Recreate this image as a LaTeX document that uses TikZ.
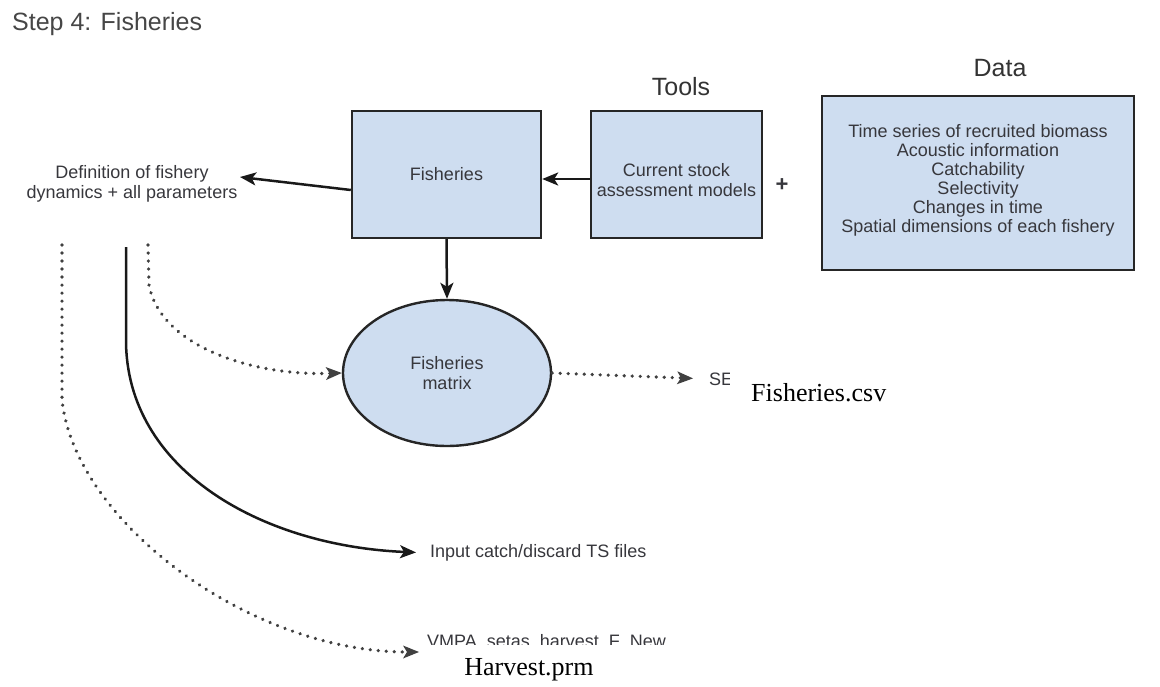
\documentclass[tikz,border=0pt]{standalone}
\usepackage{fontspec}
\setmainfont{Liberation Sans}
\newfontfamily\serifface{Liberation Serif}
\usetikzlibrary{arrows.meta,shapes.geometric}
\definecolor{boxfill}{RGB}{206,221,240}
\definecolor{boxtext}{RGB}{55,55,60}
\definecolor{titletext}{RGB}{70,70,70}
\tikzset{
  base/.style={font=\fontsize{18}{20}\selectfont, text=boxtext, align=center},
  bluebox/.style={base, draw=black!85, line width=2.4pt, fill=boxfill, inner sep=0pt},
  inside/.style={base, inner sep=0pt},
  heading/.style={font=\fontsize{25}{28}\selectfont, text=black!80},
  plain/.style={base, inner sep=0pt},
  filelabel/.style={font=\serifface\fontsize{26}{28}\selectfont, text=black, fill=white},
  tip/.style={-{Stealth[length=16pt,width=13pt,inset=4pt]}},
  flow/.style={tip, line width=2.5pt, draw=black!90},
  dotflow/.style={line width=3.6pt, draw=black!75, dash pattern=on 0.01pt off 8pt, line cap=round,
    -{Stealth[length=16pt,width=13pt,inset=4pt,line cap=butt,line width=0pt]}}
}
\begin{document}
\begin{tikzpicture}[x=1pt,y=-1pt]
\useasboundingbox (0,0) rectangle (1160,686);

% title
\node[anchor=west, font=\fontsize{25}{28}\selectfont, text=titletext, inner sep=0pt] (title) at (12,24) {Step 4: Fisheries};

% column headings
\node[heading] (toolshead) at (681,87) {Tools};
\node[heading] (datahead) at (1000,68) {Data};

% boxes
\node[bluebox, minimum width=189pt, minimum height=127pt] (fish) at (446.5,174.5) {Fisheries};
\node[bluebox, minimum width=171pt, minimum height=127pt,
  label={[inside, yshift=-5.5pt]center:Current stock\\assessment models}] (tools) at (676.5,174.5) {};
\node[plain, font=\fontsize{22}{24}\selectfont\bfseries] (plus) at (782,185) {+};
\node[bluebox, minimum width=312pt, minimum height=174pt,
  label={[inside, font=\fontsize{18}{19}\selectfont, yshift=2.5pt]center:Time series of recruited biomass\\Acoustic information\\Catchability\\Selectivity\\Changes in time\\Spatial dimensions of each fishery}] (data) at (978,183) {};

\node[bluebox, ellipse, minimum width=208pt, minimum height=146pt] (matrix) at (447,373) {Fisheries\\matrix};

% left-hand labels
\node[plain] (defn) at (132,184) {Definition of fishery\\dynamics + all parameters};
\node[plain, anchor=west, inner xsep=0pt] (catch) at (430,553) {Input catch/discard TS files};
\node[plain, anchor=west] (se) at (709,379) {SE};
\node[plain, anchor=west] (vmpa) at (427,641) {VMPA\ \ setas\ \ harvest\ \ F\ \ New};

% connectors
\draw[flow] (tools.west |- 0,179) -- (fish.east |- 0,179);
\draw[flow] (fish.south) -- (matrix.north);
\draw[flow] (fish.west |- 0,190) -- (240,177);

\coordinate (solidstart) at (126,247);
\coordinate (innerstart) at (148,245);
\coordinate (outerstart) at (62,245);

\draw[flow, shorten >=14pt] (solidstart) -- (126,340) .. controls (126,470) and (262,546) .. (catch.west);
\draw[dotflow] (innerstart) -- (149,285) .. controls (160,345) and (250,376) .. (matrix.west);
\draw[dotflow] (outerstart) -- (62,400) .. controls (75,522) and (250,652) .. (419,652);
\draw[dotflow, shorten >=16pt] (matrix.east) -- (se.west);

% file-name labels laid over the outputs
\node[filelabel, anchor=west, inner xsep=21pt, inner ysep=14pt] (csv) at (730,393) {Fisheries.csv};
\fill[white] (423,645) rectangle (690,686);
\node[font=\serifface\fontsize{26}{28}\selectfont, text=black, inner sep=0pt] (prm) at (529,670) {Harvest.prm};
\end{tikzpicture}
\end{document}
